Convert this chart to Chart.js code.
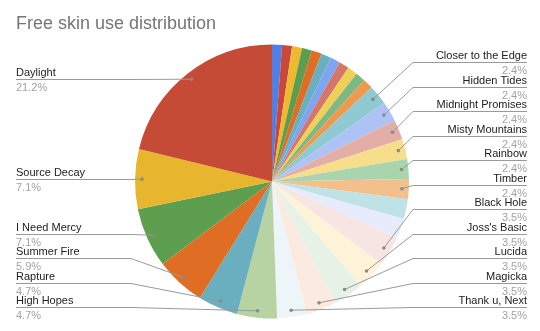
<!DOCTYPE html>
<html>
<head>
<meta charset="utf-8">
<title>Free skin use distribution</title>
<script src="https://cdn.jsdelivr.net/npm/chart.js@4/dist/chart.umd.min.js"></script>
<style>
  html, body { margin: 0; padding: 0; background: #ffffff; }
  #skinChart { display: block; }
</style>
</head>
<body>
<canvas id="skinChart" width="540" height="331"></canvas>
<script>
// Skins in slice order, clockwise from 12 o'clock. Empty names = slices without a callout.
const skinNames = [
  '', '', '', '', '', '', '', '', '', '', '',
  'Closer to the Edge', 'Hidden Tides', 'Midnight Promises', 'Misty Mountains', 'Rainbow', 'Timber',
  '', '',
  'Black Hole', "Joss's Basic", 'Lucida', 'Magicka', 'Thank u, Next',
  'High Hopes', 'Rapture', 'Summer Fire', 'I Need Mercy', 'Source Decay', 'Daylight'
];

// Times each skin was picked
const useCounts = [
  1, 1, 1, 1, 1, 1, 1, 1, 1, 1, 1,
  2, 2, 2, 2, 2, 2,
  2, 2,
  3, 3, 3, 3, 3,
  4, 4, 5, 6, 6, 18
];

const sliceColors = [
  '#4f80e8', '#c9483a', '#efb92f', '#5d9e4e', '#e06d24', '#6aafc0', '#7ea5f0', '#d3776b',
  '#f0cf57', '#7dba83', '#ed9a4e',
  '#8fcad3', '#adc3f5', '#e3aea6', '#f6de8b', '#a9d5ae', '#f2bf8d',
  '#bfe2e6', '#e6ecfb',
  '#f7e5e3', '#fdf3d9', '#e7f2e7', '#fbeadf', '#edf5f8',
  '#b7d2a3', '#6aafc0', '#e06d24', '#5e9e4f', '#e8b52e', '#c54b37'
];

const FONT = "'Liberation Sans', Arial, sans-serif";

// Callout labels with leader lines, stacked on each side of the pie
const calloutPlugin = {
  id: 'callouts',
  afterDraw(chart) {
    const ctx = chart.ctx;
    const meta = chart.getDatasetMeta(0);
    const data = chart.data.datasets[0].data;
    const total = data.reduce((a, b) => a + b, 0);
    const gap = 24.5;
    const maxY = chart.chartArea.bottom - 11.5;

    const left = [];
    const right = [];
    meta.data.forEach((arc, i) => {
      const name = chart.data.labels[i];
      if (!name) return;
      const p = arc.getProps(['x', 'y', 'startAngle', 'endAngle', 'outerRadius'], true);
      const mid = (p.startAngle + p.endAngle) / 2;
      const item = {
        name,
        pct: (data[i] / total * 100).toFixed(1) + '%',
        cx: p.x,
        r: p.outerRadius,
        dx: p.x + Math.cos(mid) * p.outerRadius * 0.95,
        dy: p.y + Math.sin(mid) * p.outerRadius * 0.95
      };
      (Math.cos(mid) >= 0 ? right : left).push(item);
    });

    [left, right].forEach((side, s) => {
      side.sort((a, b) => a.dy - b.dy);
      // push down, then pull back up from the bottom limit
      side.forEach((it, k) => {
        it.ly = k === 0 ? it.dy : Math.max(it.dy, side[k - 1].ly + gap);
      });
      for (let k = side.length - 1; k >= 0; k--) {
        const limit = k === side.length - 1 ? maxY : side[k + 1].ly - gap;
        side[k].ly = Math.min(side[k].ly, limit);
      }

      side.forEach(it => {
        const isRight = s === 1;
        const ly = Math.round(it.ly) + 0.5;
        const textX = isRight ? 527 : 16;
        const elbowX = isRight ? it.cx + it.r + 4 : it.cx - it.r - 4;

        ctx.save();
        ctx.strokeStyle = '#9a9a9a';
        ctx.lineWidth = 1;
        ctx.beginPath();
        ctx.moveTo(textX, ly);
        ctx.lineTo(elbowX, ly);
        ctx.lineTo(it.dx, it.dy);
        ctx.stroke();

        ctx.fillStyle = '#8a8a8a';
        ctx.beginPath();
        ctx.arc(it.dx, it.dy, 1.8, 0, Math.PI * 2);
        ctx.fill();

        ctx.textAlign = isRight ? 'right' : 'left';
        ctx.textBaseline = 'alphabetic';
        ctx.font = '11px ' + FONT;
        ctx.fillStyle = '#222222';
        ctx.fillText(it.name, textX, ly - 3.5);
        ctx.fillStyle = '#a3a3a3';
        ctx.fillText(it.pct, textX, ly + 11);
        ctx.restore();
      });
    });
  }
};

const chart = new Chart(document.getElementById('skinChart').getContext('2d'), {
  type: 'pie',
  data: {
    labels: skinNames,
    datasets: [{
      data: useCounts,
      backgroundColor: sliceColors,
      borderWidth: 0,
      offset: 0,
      hoverOffset: 0
    }]
  },
  options: {
    responsive: false,
    animation: false,
    devicePixelRatio: 1,
    layout: {
      padding: { left: 16, right: 12, top: 4, bottom: 12.5 }
    },
    plugins: {
      legend: { display: false },
      tooltip: { enabled: false },
      title: {
        display: true,
        text: 'Free skin use distribution',
        align: 'start',
        color: '#757575',
        font: { family: FONT, size: 18, weight: 'normal' },
        padding: { top: 9.5, bottom: 9.5 }
      }
    }
  },
  plugins: [calloutPlugin]
});
</script>
</body>
</html>
